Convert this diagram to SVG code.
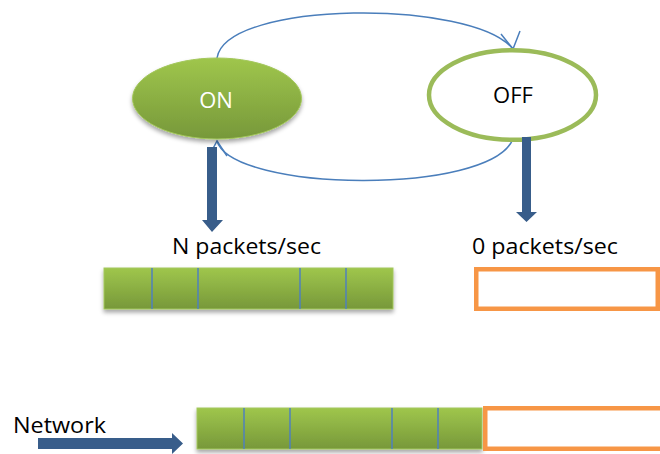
<svg xmlns="http://www.w3.org/2000/svg" width="660" height="454" viewBox="0 0 660 454">
  <style>
    .lbl { font-family: "Open Sans", "Liberation Sans", Arial, sans-serif; font-size: 22px; fill: #000; }
    .arc { fill: none; stroke: #4a7ebb; stroke-width: 1.5; }
    .thick { fill: #385d8a; }
    .div { stroke: #4f81bd; stroke-width: 1.5; }
    .empty { fill: #fff; stroke: #f79646; stroke-width: 4.5; }
    .green { fill: url(#greenGrad); stroke: #a3c75c; stroke-width: 1; }
  </style>
  <defs>
    <linearGradient id="greenGrad" x1="0" y1="0" x2="0" y2="1">
      <stop offset="0" stop-color="#9fc64c"/>
      <stop offset="1" stop-color="#77983a"/>
    </linearGradient>
    <filter id="shadow" x="-10%" y="-20%" width="120%" height="150%">
      <feDropShadow dx="0" dy="3" stdDeviation="2" flood-color="#000" flood-opacity="0.35"/>
    </filter>
  </defs>

  <!-- state transitions -->
  <g id="connectors">
    <path class="arc" d="M217,58 C226,0 473,-1 513,49"/>
    <path class="arc" d="M501,34 L513,49 L520,31"/>
    <path class="arc" d="M513,139 C490,196 232,192 217,141"/>
    <path class="arc" d="M208,158 L217,141 L227,156"/>
  </g>

  <g id="state-on">
    <ellipse class="green" cx="217" cy="98.5" rx="84.5" ry="40.5" filter="url(#shadow)"/>
    <text class="lbl" x="216" y="108" text-anchor="middle" style="fill:#fff">ON</text>
  </g>

  <g id="state-off">
    <ellipse cx="512.5" cy="95" rx="83.5" ry="44.8" fill="#fff" stroke="#9bbb59" stroke-width="4.5"/>
    <text class="lbl" x="513" y="103" text-anchor="middle">OFF</text>
  </g>

  <!-- output rate arrows -->
  <g id="rate-on">
    <path class="thick" d="M207,147 H217 V220 H223 L212,232 L202,220 H207 Z"/>
    <text class="lbl" x="172" y="254" textLength="149" lengthAdjust="spacingAndGlyphs">N packets/sec</text>
  </g>
  <g id="rate-off">
    <path class="thick" d="M522,137 H531 V212 H537 L526.5,222 L516,212 H522 Z"/>
    <text class="lbl" x="472" y="254" textLength="146" lengthAdjust="spacingAndGlyphs">0 packets/sec</text>
  </g>

  <!-- burst of packets while ON -->
  <g id="queue-on">
    <rect class="green" x="104" y="268" width="289" height="41" filter="url(#shadow)"/>
    <line class="div" x1="152" y1="268" x2="152" y2="309"/>
    <line class="div" x1="198" y1="268" x2="198" y2="309"/>
    <line class="div" x1="300" y1="268" x2="300" y2="309"/>
    <line class="div" x1="346" y1="268" x2="346" y2="309"/>
  </g>

  <!-- idle period while OFF -->
  <g id="queue-off">
    <rect class="empty" x="476.25" y="269.25" width="181.5" height="39.5"/>
  </g>

  <!-- resulting traffic on the network -->
  <g id="network">
    <text class="lbl" x="13" y="433" style="font-size:21px" textLength="93" lengthAdjust="spacingAndGlyphs">Network</text>
    <path class="thick" d="M38,438 H172 V433 L183,443.5 L172,454 V449 H38 Z"/>
  </g>
  <g id="network-stream">
    <rect class="green" x="197" y="408" width="285" height="41" filter="url(#shadow)"/>
    <line class="div" x1="244" y1="408" x2="244" y2="449"/>
    <line class="div" x1="290" y1="408" x2="290" y2="449"/>
    <line class="div" x1="392" y1="408" x2="392" y2="449"/>
    <line class="div" x1="438" y1="408" x2="438" y2="449"/>
    <rect class="empty" x="485.25" y="408.25" width="200" height="40.5"/>
  </g>
</svg>
